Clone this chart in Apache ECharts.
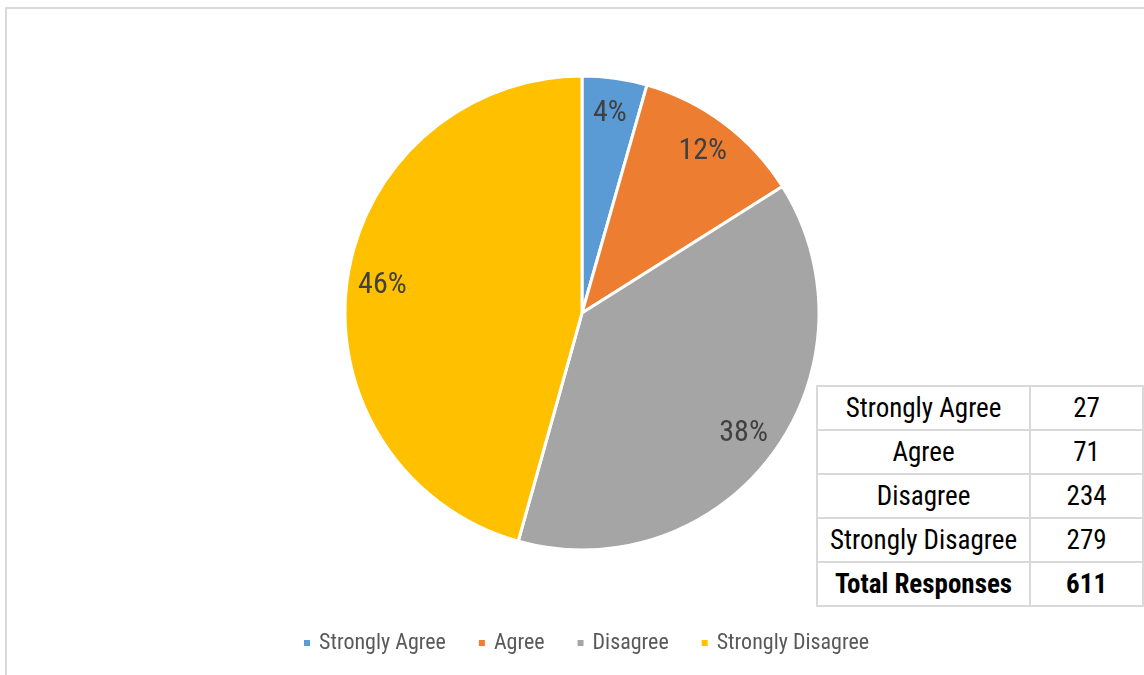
<!DOCTYPE html>
<html><head><meta charset="utf-8">
<script src="https://cdn.jsdelivr.net/npm/echarts@6/dist/echarts.min.js"></script>
<style>
html,body{margin:0;padding:0;width:1144px;height:675px;overflow:hidden;background:#fff}
#frame{position:absolute;left:5px;top:7px;width:1300px;height:800px;border-left:2px solid #d9d9d9;border-top:2px solid #d9d9d9}
#chart{position:absolute;left:0;top:0;width:1144px;height:675px}
#tbl{position:absolute;left:816px;top:385px;border-collapse:collapse;font-family:'Roboto Condensed','Liberation Sans',sans-serif;font-size:27px;color:#000;background:#fff;table-layout:fixed}
#tbl td{border:2px solid #d9d9d9;height:44px;padding:0;text-align:center;box-sizing:border-box;line-height:40px;white-space:nowrap}
#tbl td.c1{width:217px}
#tbl td.c2{width:124px}
#tbl tr.total td{font-weight:bold}
</style>
</head><body>
<div id="frame"></div>
<div id="chart"></div>
<table id="tbl"></table>
<script>
var categories = ['Strongly Agree', 'Agree', 'Disagree', 'Strongly Disagree'];
var counts = [27, 71, 234, 279];
var colors = ['#5B9BD5', '#ED7D31', '#A5A5A5', '#FFC000'];
var totalLabel = 'Total Responses';

var FONT = "'Roboto Condensed','Liberation Sans',sans-serif";

// table
var tbl = document.getElementById('tbl');
var total = 0;
categories.forEach(function (c, i) {
  total += counts[i];
  var tr = document.createElement('tr');
  var a = document.createElement('td'); a.className = 'c1'; a.textContent = c;
  var b = document.createElement('td'); b.className = 'c2'; b.textContent = counts[i];
  tr.appendChild(a); tr.appendChild(b); tbl.appendChild(tr);
});
(function () {
  var tr = document.createElement('tr'); tr.className = 'total';
  var a = document.createElement('td'); a.className = 'c1'; a.textContent = totalLabel;
  var b = document.createElement('td'); b.className = 'c2'; b.textContent = total;
  tr.appendChild(a); tr.appendChild(b); tbl.appendChild(tr);
})();

var pieData = categories.map(function (c, i) {
  return { name: c, value: counts[i], itemStyle: { color: colors[i] } };
});
var labelData = categories.map(function (c, i) {
  return { name: c, value: counts[i] };
});

var chart = echarts.init(document.getElementById('chart'), null, { renderer: 'canvas' });
chart.setOption({
  animation: false,
  backgroundColor: 'transparent',
  legend: {
    data: categories,
    top: 627,
    left: 297,
    icon: 'rect',
    itemWidth: 8,
    itemHeight: 8,
    itemGap: 31,
    textStyle: { fontFamily: FONT, fontSize: 22, color: '#595959', padding: [0, 0, 0, 3] }
  },
  series: [
    {
      type: 'pie',
      center: [582, 313],
      radius: [0, 237],
      startAngle: 90,
      clockwise: true,
      label: { show: false },
      labelLine: { show: false },
      itemStyle: { borderColor: '#ffffff', borderWidth: 3 },
      emphasis: { disabled: true },
      data: pieData
    },
    {
      type: 'pie',
      center: [582, 313],
      radius: [160, 237],
      startAngle: 90,
      clockwise: true,
      silent: true,
      legendHoverLink: false,
      itemStyle: { color: 'rgba(0,0,0,0)' },
      emphasis: { disabled: true },
      label: {
        show: true,
        position: 'inside',
        fontFamily: FONT,
        fontSize: 30,
        color: '#404040',
        formatter: function (p) { return Math.round(p.percent) + '%'; }
      },
      labelLine: { show: false },
      data: labelData
    }
  ]
});
</script>
</body></html>
